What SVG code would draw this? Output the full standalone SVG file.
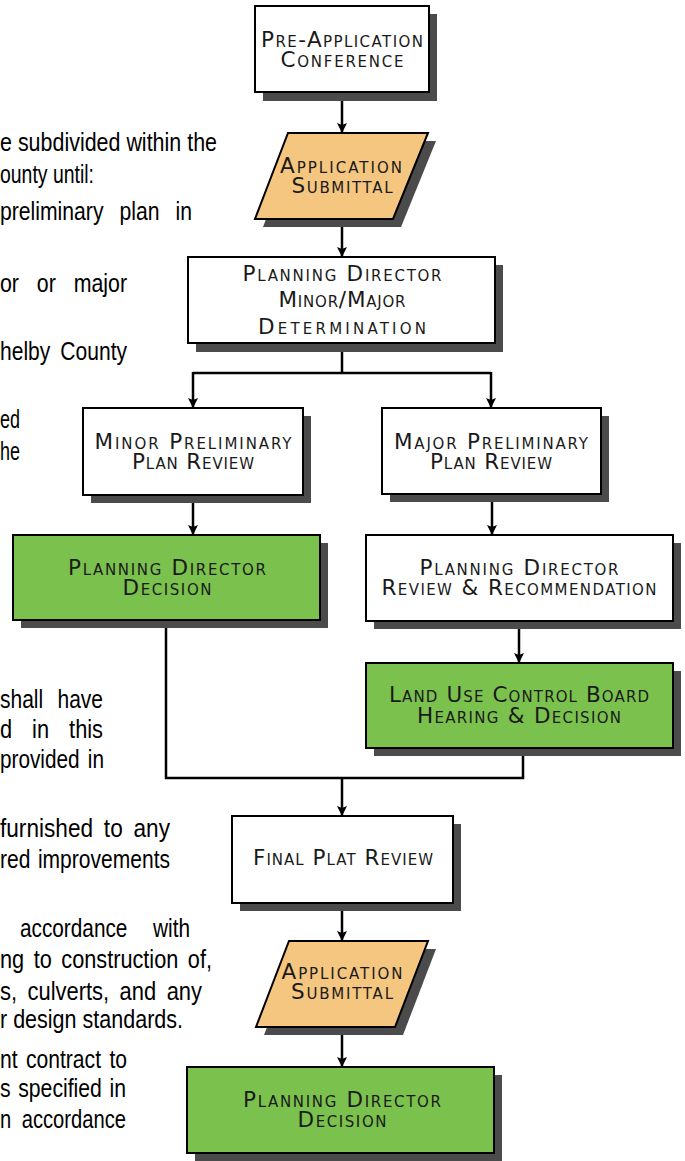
<svg xmlns="http://www.w3.org/2000/svg" width="685" height="1161" viewBox="0 0 685 1161">
<style>
.bg{fill:#fff}
.box{fill:#fff;stroke:#000;stroke-width:2}
.green{fill:#7bc14d;stroke:#000;stroke-width:2}
.orange{fill:#f5c680;stroke:#000;stroke-width:2}
.shadow{fill:#4b4b4b}
.lbl{font-family:"DejaVu Sans","Open Sans",sans-serif;font-size:21.5px;font-variant:small-caps;text-anchor:middle;fill:#1a1a1a}
.body{font-family:"Liberation Sans",Arial,sans-serif;font-size:25px;fill:#000}
.conn{stroke:#000;stroke-width:2.5;fill:none}
.arr{marker-end:url(#ah)}
</style>
<defs>
<marker id="ah" markerUnits="userSpaceOnUse" markerWidth="10" markerHeight="12" refX="10" refY="5" orient="auto">
<path d="M0,0 L10,5 L0,10 L2,5 z" fill="#000"/>
</marker>
</defs>
<rect class="bg" x="0" y="0" width="685" height="1161"/>
<g id="body-text">
<text class="body" x="0" y="151" textLength="217" lengthAdjust="spacingAndGlyphs">e subdivided within the</text>
<text class="body" x="0" y="183" textLength="94" lengthAdjust="spacingAndGlyphs">ounty until:</text>
<text class="body" x="0" y="220" word-spacing="12" textLength="192" lengthAdjust="spacingAndGlyphs">preliminary plan in</text>
<text class="body" x="0" y="292" word-spacing="14" textLength="127" lengthAdjust="spacingAndGlyphs">or or major</text>
<text class="body" x="0" y="360" word-spacing="5" textLength="127" lengthAdjust="spacingAndGlyphs">helby County</text>
<text class="body" x="0" y="428" textLength="20" lengthAdjust="spacingAndGlyphs">ed</text>
<text class="body" x="0" y="460" textLength="20" lengthAdjust="spacingAndGlyphs">he</text>
<text class="body" x="0" y="708" word-spacing="10" textLength="103" lengthAdjust="spacingAndGlyphs">shall have</text>
<text class="body" x="0" y="738" word-spacing="16" textLength="103" lengthAdjust="spacingAndGlyphs">d in this</text>
<text class="body" x="0" y="768" word-spacing="3" textLength="104" lengthAdjust="spacingAndGlyphs">provided in</text>
<text class="body" x="0" y="837" word-spacing="5" textLength="170" lengthAdjust="spacingAndGlyphs">furnished to any</text>
<text class="body" x="0" y="868" word-spacing="2" textLength="170" lengthAdjust="spacingAndGlyphs">red improvements</text>
<text class="body" x="20" y="937" word-spacing="24" textLength="170" lengthAdjust="spacingAndGlyphs">accordance with</text>
<text class="body" x="0" y="968" word-spacing="4" textLength="212" lengthAdjust="spacingAndGlyphs">ng to construction of,</text>
<text class="body" x="0" y="1000" word-spacing="5" textLength="202" lengthAdjust="spacingAndGlyphs">s, culverts, and any</text>
<text class="body" x="0" y="1028" textLength="183" lengthAdjust="spacingAndGlyphs">r design standards.</text>
<text class="body" x="0" y="1068" word-spacing="3" textLength="127" lengthAdjust="spacingAndGlyphs">nt contract to</text>
<text class="body" x="0" y="1097" word-spacing="2" textLength="126" lengthAdjust="spacingAndGlyphs">s specified in</text>
<text class="body" x="0" y="1128" word-spacing="6" textLength="126" lengthAdjust="spacingAndGlyphs">n accordance</text>
</g>
<g id="connectors">
<path class="conn arr" d="M342,92 V133"/>
<path class="conn arr" d="M342,219 V257"/>
<path class="conn" d="M342,343 V373 M193,373 H491"/>
<path class="conn arr" d="M193,372 V408"/>
<path class="conn arr" d="M491,372 V408"/>
<path class="conn arr" d="M193,495 V535"/>
<path class="conn arr" d="M492,494 V535"/>
<path class="conn arr" d="M519,621 V663"/>
<path class="conn" d="M166,620 V778 H523 V748"/>
<path class="conn arr" d="M342,778 V816"/>
<path class="conn arr" d="M342,903 V941"/>
<path class="conn arr" d="M342,1027 V1067"/>
</g>
<g id="n-preapp">
<rect class="shadow" x="263" y="14" width="174" height="87"/>
<rect class="box" x="255" y="6" width="174" height="86"/>
<text class="lbl"><tspan x="342" y="47" textLength="162" lengthAdjust="spacing">Pre-Application</tspan><tspan x="342" y="67" textLength="123" lengthAdjust="spacing">Conference</tspan></text>
</g>
<g id="n-submittal1">
<polygon class="shadow" points="296,141 436,141 401,227 263,227"/>
<polygon class="orange" points="288,133 428,133 393,219 255,219"/>
<text class="lbl"><tspan x="341" y="173" textLength="122" lengthAdjust="spacing">Application</tspan><tspan x="342" y="193" textLength="101" lengthAdjust="spacing">Submittal</tspan></text>
</g>
<g id="n-determination">
<rect class="shadow" x="196" y="265" width="307" height="87"/>
<rect class="box" x="188" y="257" width="307" height="86"/>
<text class="lbl"><tspan x="342" y="281" textLength="199" lengthAdjust="spacing">Planning Director</tspan><tspan x="342" y="307" textLength="127" lengthAdjust="spacing">Minor/Major</tspan><tspan x="342" y="334" textLength="168" lengthAdjust="spacing">Determination</tspan></text>
</g>
<g id="n-minor">
<rect class="shadow" x="91" y="416" width="220" height="87"/>
<rect class="box" x="83" y="408" width="220" height="87"/>
<text class="lbl"><tspan x="193" y="449" textLength="197" lengthAdjust="spacing">Minor Preliminary</tspan><tspan x="193" y="469" textLength="122" lengthAdjust="spacing">Plan Review</tspan></text>
</g>
<g id="n-major">
<rect class="shadow" x="390" y="416" width="219" height="86"/>
<rect class="box" x="382" y="408" width="219" height="86"/>
<text class="lbl"><tspan x="491" y="449" textLength="194" lengthAdjust="spacing">Major Preliminary</tspan><tspan x="491" y="469" textLength="122" lengthAdjust="spacing">Plan Review</tspan></text>
</g>
<g id="n-pd-decision1">
<rect class="shadow" x="21" y="543" width="307" height="85"/>
<rect class="green" x="13" y="535" width="307" height="85"/>
<text class="lbl"><tspan x="167" y="575" textLength="198" lengthAdjust="spacing">Planning Director</tspan><tspan x="167" y="595" textLength="89" lengthAdjust="spacing">Decision</tspan></text>
</g>
<g id="n-pd-review">
<rect class="shadow" x="374" y="543" width="307" height="86"/>
<rect class="box" x="366" y="535" width="307" height="86"/>
<text class="lbl"><tspan x="519" y="575" textLength="199" lengthAdjust="spacing">Planning Director</tspan><tspan x="519" y="595" textLength="275" lengthAdjust="spacing">Review &amp; Recommendation</tspan></text>
</g>
<g id="n-lucb">
<rect class="shadow" x="374" y="671" width="307" height="85"/>
<rect class="green" x="366" y="663" width="307" height="85"/>
<text class="lbl"><tspan x="519" y="702" textLength="260" lengthAdjust="spacing">Land Use Control Board</tspan><tspan x="519" y="723" textLength="204" lengthAdjust="spacing">Hearing &amp; Decision</tspan></text>
</g>
<g id="n-final-plat">
<rect class="shadow" x="240" y="824" width="221" height="87"/>
<rect class="box" x="232" y="816" width="221" height="87"/>
<text class="lbl" x="343" y="865" textLength="180" lengthAdjust="spacing">Final Plat Review</text>
</g>
<g id="n-submittal2">
<polygon class="shadow" points="297,949 436,949 403,1035 264,1035"/>
<polygon class="orange" points="289,941 428,941 395,1027 256,1027"/>
<text class="lbl"><tspan x="342" y="979" textLength="121" lengthAdjust="spacing">Application</tspan><tspan x="342" y="999" textLength="102" lengthAdjust="spacing">Submittal</tspan></text>
</g>
<g id="n-pd-decision2">
<rect class="shadow" x="195" y="1075" width="307" height="86"/>
<rect class="green" x="187" y="1067" width="307" height="86"/>
<text class="lbl"><tspan x="342" y="1107" textLength="198" lengthAdjust="spacing">Planning Director</tspan><tspan x="342" y="1127" textLength="89" lengthAdjust="spacing">Decision</tspan></text>
</g>
</svg>
